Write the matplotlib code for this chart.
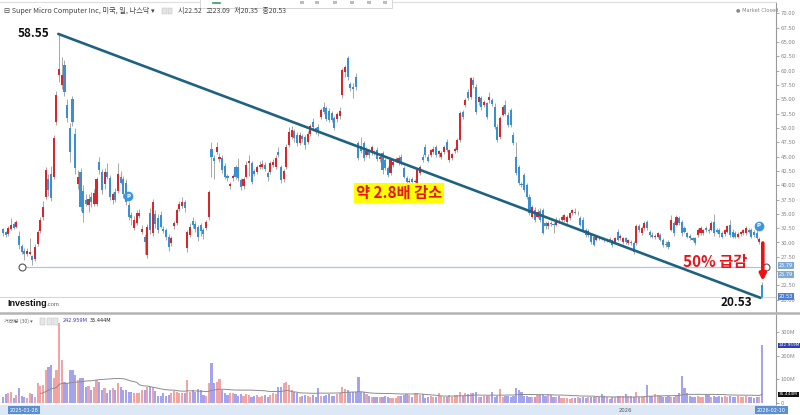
import numpy as np
import pandas as pd
import matplotlib
matplotlib.use('Agg')
import matplotlib.pyplot as plt
from matplotlib.patches import Rectangle
from matplotlib.lines import Line2D

plt.rcParams['font.family'] = ['Noto Sans CJK KR', 'DejaVu Sans']

# 일봉 데이터
opens = [32.3, 31.8, 31.4, 32.4, 33.2, 32.7, 31.2, 29.4, 28.6, 28.0,
         28.0, 27.6, 27.2, 29.8, 32.0, 34.4, 38.0, 41.0, 42.0, 41.5,
         51.0, 59.2, 57.5, 61.0, 54.0, 50.0, 55.0, 49.0, 40.2, 42.3,
         39.0, 37.5, 36.6, 38.0, 36.8, 36.8, 44.0, 42.3, 40.2, 42.3,
         41.2, 37.4, 38.8, 39.0, 41.4, 41.0, 40.4, 36.5, 34.8, 32.6,
         33.4, 34.6, 31.9, 31.0, 27.8, 35.2, 31.7, 35.0, 34.2, 34.8,
         32.4, 32.2, 31.0, 29.9, 32.8, 33.4, 35.8, 36.3, 37.1, 29.0,
         31.3, 33.8, 33.2, 32.7, 33.0, 32.2, 32.6, 34.4, 46.4, 44.8,
         45.8, 44.6, 44.8, 43.4, 41.6, 39.8, 41.2, 43.2, 43.2, 40.9,
         39.8, 41.5, 43.8, 43.8, 42.4, 42.3, 43.2, 43.2, 43.6, 42.1,
         42.3, 43.6, 43.2, 45.8, 43.2, 41.0, 43.2, 47.0, 48.4, 49.4,
         48.8, 47.4, 48.6, 48.4, 47.6, 49.0, 51.0, 49.9, 50.2, 51.9,
         53.6, 53.5, 53.0, 52.6, 51.7, 51.5, 52.0, 55.7, 59.8, 62.2,
         57.6, 57.2, 58.9, 47.4, 46.8, 47.4, 45.3, 46.0, 45.6, 45.8,
         46.2, 44.6, 45.6, 44.4, 43.0, 42.1, 43.5, 44.3, 43.9, 45.0,
         43.0, 41.2, 40.6, 41.0, 40.5, 40.4, 42.1, 45.0, 46.7, 45.0,
         45.3, 45.8, 46.7, 45.4, 45.0, 45.8, 47.6, 44.4, 44.8, 46.0,
         46.1, 47.9, 52.8, 54.0, 56.3, 55.4, 58.4, 57.1, 54.5, 55.2,
         54.0, 54.3, 54.8, 54.8, 53.7, 50.2, 48.4, 52.3, 54.0, 52.3,
         53.1, 48.8, 45.0, 43.2, 40.2, 41.8, 40.0, 38.0, 34.5, 35.7,
         34.5, 35.5, 35.7, 33.4, 32.8, 33.4, 33.3, 33.1, 33.8, 33.9,
         33.9, 33.6, 34.3, 35.1, 35.4, 35.1, 34.3, 34.0, 32.2, 31.3,
         31.3, 31.0, 30.4, 30.9, 30.7, 30.6, 30.4, 30.6, 30.4, 30.1,
         31.9, 30.8, 30.1, 30.7, 29.9, 30.1, 29.9, 29.9, 32.8, 31.6,
         32.5, 33.6, 31.9, 31.3, 31.0, 31.0, 31.3, 30.4, 29.8, 30.1,
         32.2, 33.4, 33.1, 34.3, 33.6, 32.5, 31.6, 31.2, 30.7, 30.7,
         31.3, 31.6, 31.6, 32.5, 32.2, 32.2, 33.6, 32.2, 32.2, 31.6,
         31.4, 31.9, 33.1, 31.9, 31.6, 31.0, 31.5, 31.6, 31.6, 32.2,
         32.2, 31.9, 31.6, 30.0, 22.52]
highs = [32.6, 32.0, 32.8, 34.3, 33.6, 34.0, 32.0, 29.8, 29.0, 29.0,
         30.8, 27.8, 29.8, 32.2, 34.5, 37.2, 43.2, 42.0, 43.4, 48.8,
         56.5, 66.4, 62.4, 61.8, 55.0, 50.8, 55.6, 50.0, 42.6, 43.0,
         40.0, 38.5, 38.4, 38.8, 39.4, 41.4, 45.0, 42.8, 43.0, 43.8,
         41.8, 38.8, 39.5, 43.8, 42.4, 41.6, 41.0, 37.0, 35.4, 34.6,
         35.6, 35.8, 33.0, 31.5, 33.2, 36.0, 37.6, 35.6, 35.0, 35.5,
         32.8, 32.6, 31.4, 31.2, 33.8, 36.1, 37.3, 38.0, 37.4, 32.2,
         33.4, 34.5, 33.8, 33.0, 33.4, 32.6, 34.0, 39.2, 47.6, 45.2,
         47.6, 45.6, 45.2, 43.8, 42.0, 40.6, 42.0, 43.6, 44.8, 41.3,
         41.5, 44.2, 45.2, 44.2, 42.8, 43.6, 44.2, 44.4, 44.0, 42.5,
         44.2, 44.5, 45.3, 46.7, 43.6, 42.8, 47.2, 50.2, 50.4, 49.8,
         49.2, 49.2, 49.0, 48.8, 49.4, 50.6, 51.7, 50.2, 50.6, 53.5,
         54.5, 53.8, 53.4, 53.0, 52.0, 52.8, 53.6, 60.5, 61.0, 62.5,
         58.0, 57.8, 59.6, 47.8, 48.4, 47.8, 46.6, 46.4, 47.0, 46.2,
         46.6, 45.4, 46.0, 44.8, 43.4, 44.8, 44.4, 44.9, 45.2, 45.4,
         43.4, 41.6, 41.2, 41.4, 41.0, 43.0, 43.6, 45.4, 47.2, 45.4,
         46.4, 46.8, 47.0, 46.2, 46.0, 47.0, 48.0, 46.4, 45.6, 46.6,
         48.2, 53.0, 53.2, 55.2, 56.8, 58.9, 58.8, 57.6, 55.6, 55.6,
         54.9, 54.6, 56.2, 55.2, 54.4, 50.6, 52.0, 54.0, 54.8, 52.8,
         53.5, 49.2, 47.5, 43.6, 40.6, 42.2, 40.4, 38.4, 36.6, 36.2,
         35.8, 36.0, 36.0, 33.8, 33.8, 33.8, 33.6, 34.4, 34.2, 34.8,
         35.0, 34.8, 35.4, 35.9, 36.0, 35.5, 34.6, 34.4, 32.6, 32.3,
         31.6, 31.3, 31.3, 31.2, 31.0, 30.9, 30.8, 31.0, 30.6, 30.9,
         32.3, 31.5, 30.9, 31.0, 30.6, 30.4, 30.2, 33.2, 33.2, 32.8,
         33.8, 34.0, 32.2, 31.8, 31.5, 31.9, 31.6, 30.7, 30.3, 30.4,
         34.8, 33.8, 34.8, 34.6, 34.0, 32.8, 31.9, 31.5, 31.0, 31.0,
         32.5, 32.8, 32.4, 32.8, 32.6, 33.8, 35.0, 32.6, 32.5, 32.0,
         32.4, 33.0, 34.0, 32.3, 32.0, 31.8, 32.0, 32.4, 32.8, 32.6,
         32.5, 32.2, 33.3, 31.0, 23.09]
lows = [31.2, 31.0, 31.2, 32.2, 32.3, 32.5, 28.9, 28.0, 27.0, 27.6,
        27.8, 26.1, 26.8, 29.4, 31.6, 34.0, 37.6, 38.2, 37.2, 41.0,
        50.5, 58.0, 56.8, 55.5, 51.0, 44.1, 50.4, 42.0, 39.4, 35.5,
        33.6, 36.4, 35.4, 36.2, 36.4, 36.4, 42.0, 38.5, 39.3, 41.0,
        37.4, 36.8, 37.0, 38.6, 40.2, 37.8, 36.5, 34.0, 33.0, 32.2,
        33.0, 34.2, 31.4, 28.0, 27.3, 31.5, 31.2, 32.5, 31.7, 32.5,
        31.6, 30.5, 28.6, 29.4, 32.4, 33.0, 35.5, 36.0, 35.4, 28.4,
        31.0, 32.6, 31.8, 30.2, 31.2, 30.6, 32.2, 34.0, 41.5, 41.0,
        45.4, 44.0, 42.2, 41.0, 40.8, 39.4, 40.8, 41.0, 40.8, 39.2,
        39.4, 41.2, 41.6, 40.2, 41.6, 42.0, 42.8, 42.8, 42.4, 40.8,
        42.0, 43.2, 42.8, 45.0, 40.4, 40.6, 42.8, 46.6, 48.0, 47.6,
        46.8, 47.0, 47.6, 46.4, 47.2, 48.6, 49.8, 49.0, 48.6, 51.5,
        52.4, 51.2, 51.0, 51.0, 49.6, 51.0, 51.6, 55.3, 58.8, 58.4,
        56.4, 55.2, 56.6, 44.4, 45.6, 44.2, 45.0, 44.8, 45.2, 45.2,
        44.2, 44.0, 42.0, 42.6, 41.4, 41.8, 43.2, 44.0, 43.6, 43.6,
        41.2, 40.2, 40.2, 40.3, 40.2, 40.2, 41.8, 44.0, 45.0, 44.0,
        45.0, 45.4, 45.0, 45.0, 44.6, 45.4, 45.8, 44.0, 44.4, 45.6,
        45.8, 47.6, 51.6, 53.6, 54.8, 55.0, 57.0, 52.4, 54.0, 53.2,
        53.6, 51.5, 54.4, 53.8, 49.8, 47.5, 48.0, 52.0, 52.2, 50.1,
        50.2, 47.0, 41.8, 40.0, 39.6, 38.8, 37.6, 34.8, 34.2, 33.6,
        34.2, 33.6, 31.4, 32.4, 32.4, 32.8, 31.7, 32.8, 33.4, 33.6,
        33.6, 33.2, 34.0, 34.8, 35.0, 34.8, 32.8, 31.8, 31.0, 31.0,
        29.8, 29.4, 30.2, 30.5, 30.4, 30.1, 30.0, 30.3, 29.2, 29.9,
        30.2, 30.5, 29.8, 29.8, 29.6, 29.6, 28.0, 29.6, 31.8, 31.3,
        32.2, 32.2, 31.0, 30.7, 30.6, 30.8, 30.2, 29.2, 29.3, 28.8,
        32.0, 31.2, 32.8, 33.0, 31.2, 31.6, 30.8, 30.4, 30.2, 29.6,
        31.0, 31.3, 31.3, 31.9, 31.6, 32.0, 31.2, 31.6, 31.0, 30.7,
        31.1, 31.6, 31.0, 30.7, 30.8, 30.8, 31.2, 31.3, 31.3, 31.6,
        30.8, 31.0, 30.6, 29.7, 20.35]
closes = [31.6, 31.3, 32.5, 33.1, 32.6, 33.6, 29.5, 28.4, 28.0, 28.5,
          28.4, 27.0, 29.2, 31.8, 34.0, 36.2, 42.6, 39.2, 37.8, 48.2,
          55.7, 60.3, 59.2, 56.3, 51.7, 45.8, 51.0, 43.0, 41.4, 36.2,
          35.2, 36.8, 37.6, 37.0, 38.6, 41.0, 42.6, 39.1, 42.3, 41.5,
          38.0, 38.5, 37.5, 42.0, 40.4, 38.5, 37.1, 34.4, 34.2, 34.0,
          35.2, 35.1, 32.4, 30.0, 32.7, 32.2, 37.0, 33.2, 32.2, 32.7,
          32.0, 31.0, 29.2, 30.8, 33.4, 35.7, 36.8, 37.1, 36.0, 31.8,
          32.7, 33.0, 32.3, 31.0, 32.0, 31.4, 33.6, 38.8, 45.0, 44.2,
          46.6, 45.0, 42.6, 41.4, 41.2, 40.2, 41.6, 41.5, 41.2, 39.6,
          41.0, 43.5, 44.2, 40.6, 42.0, 43.2, 43.6, 43.7, 42.9, 41.4,
          43.8, 44.0, 44.8, 45.3, 40.9, 42.4, 46.7, 49.3, 49.6, 48.2,
          47.4, 48.8, 48.0, 47.0, 49.0, 50.3, 50.2, 49.5, 49.2, 53.1,
          52.8, 51.6, 51.4, 51.4, 50.0, 52.4, 53.0, 60.1, 60.7, 58.9,
          57.0, 56.8, 57.1, 44.8, 46.0, 44.8, 46.0, 45.2, 46.6, 45.6,
          44.6, 45.0, 42.6, 43.0, 41.8, 44.4, 44.0, 44.6, 44.8, 44.0,
          41.5, 40.5, 40.8, 40.6, 40.8, 42.6, 43.2, 44.4, 45.3, 44.2,
          46.1, 46.4, 45.3, 46.0, 45.7, 46.7, 46.1, 46.1, 45.4, 46.3,
          47.9, 52.6, 51.9, 54.8, 55.2, 58.7, 57.5, 52.8, 55.4, 53.6,
          54.6, 51.9, 55.4, 54.2, 50.2, 47.9, 51.7, 53.7, 52.5, 50.5,
          50.5, 47.4, 42.1, 40.4, 40.0, 39.1, 38.0, 35.1, 36.2, 33.9,
          35.4, 34.0, 31.7, 32.8, 33.4, 33.2, 33.0, 34.0, 33.7, 34.5,
          34.8, 34.5, 35.1, 35.6, 35.1, 35.2, 33.1, 32.2, 31.3, 32.0,
          30.1, 29.6, 31.0, 30.8, 30.6, 30.4, 30.6, 30.5, 29.5, 30.7,
          30.4, 31.1, 30.7, 30.1, 30.4, 29.9, 28.4, 32.8, 32.2, 32.5,
          33.4, 32.5, 31.3, 31.0, 31.2, 31.6, 30.4, 29.5, 29.6, 29.2,
          34.0, 31.6, 34.5, 33.4, 31.6, 31.9, 31.0, 30.7, 30.4, 29.9,
          32.2, 32.5, 32.2, 32.2, 32.0, 33.4, 31.6, 31.9, 31.4, 31.0,
          32.2, 32.8, 31.3, 31.0, 31.0, 31.5, 31.8, 32.2, 32.5, 31.9,
          31.0, 31.3, 30.8, 30.6, 20.53]
# 거래량 (백만 주)
volumes = [27, 38, 42, 48, 20, 34, 62, 30, 27, 20,
           41, 38, 27, 83, 72, 76, 139, 153, 160, 104,
           139, 337, 181, 90, 83, 139, 139, 118, 97, 104,
           107, 69, 72, 55, 69, 97, 90, 55, 62, 41,
           55, 62, 55, 83, 69, 55, 55, 48, 48, 41,
           44, 44, 55, 55, 69, 66, 66, 50, 30, 30,
           41, 30, 34, 41, 52, 48, 41, 44, 44, 97,
           48, 55, 48, 58, 55, 34, 30, 86, 168, 83,
           90, 100, 55, 41, 34, 44, 41, 38, 30, 36,
           30, 38, 34, 27, 30, 32, 27, 30, 34, 27,
           32, 41, 40, 69, 66, 83, 90, 76, 55, 48,
           41, 27, 30, 34, 30, 27, 34, 27, 62, 30,
           30, 34, 38, 30, 30, 38, 41, 69, 58, 55,
           48, 48, 48, 111, 48, 48, 38, 30, 27, 24,
           27, 24, 27, 30, 24, 21, 20, 20, 30, 30,
           34, 38, 32, 24, 41, 41, 34, 38, 20, 24,
           30, 24, 27, 41, 30, 27, 27, 34, 27, 34,
           34, 48, 30, 41, 38, 41, 41, 48, 27, 24,
           30, 30, 30, 48, 27, 30, 58, 27, 30, 30,
           24, 30, 63, 55, 48, 30, 30, 27, 27, 24,
           34, 34, 34, 30, 38, 34, 27, 24, 30, 20,
           20, 20, 15, 20, 20, 24, 20, 24, 20, 24,
           24, 27, 24, 24, 38, 30, 24, 15, 24, 27,
           30, 30, 30, 38, 30, 30, 27, 48, 27, 27,
           30, 76, 30, 30, 38, 34, 30, 27, 27, 30,
           27, 27, 34, 41, 114, 62, 41, 30, 24, 24,
           30, 27, 27, 38, 34, 27, 30, 27, 30, 27,
           30, 27, 30, 24, 24, 30, 24, 24, 30, 24,
           27, 20, 24, 27, 242.959]

price_ticks = [20.0, 22.5, 25.0, 27.5, 30.0, 32.5, 35.0, 37.5, 40.0, 42.5, 45.0,
               47.5, 50.0, 52.5, 55.0, 57.5, 60.0, 62.5, 65.0, 67.5, 70.0]
vol_ticks = [0, 100, 200, 300]
vol_tick_labels = ['0', '100M', '200M', '300M']
month_idx = [29, 50, 70, 90, 108, 130, 150, 171, 193, 211, 233, 252, 270]
support_level = 25.79
badge_idx = [46, 282]
badge_price = [38.1, 32.9]

o = np.array(opens); h = np.array(highs); l = np.array(lows); c = np.array(closes)
v = np.array(volumes)
n = len(o)
x = np.arange(n)
up = c >= o

# 픽셀 -> 좌표 변환 (레이아웃용)
STEP = (762 - 3) / (n - 1)
def xi(px):
    return (px - 3) / STEP
def yp(py):
    return 70 - (py - 13.3) / 5.73
def yv(py):
    return (403 - py) / 0.2367

W, H = 800, 415
fig = plt.figure(figsize=(8, 4.15), dpi=100)
fig.patch.set_facecolor('white')

ax = fig.add_axes([0, 1 - 313 / H, 776 / W, 311 / H])
vax = fig.add_axes([0, 1 - 405 / H, 776 / W, 92 / H])
band = fig.add_axes([0, 0, 776 / W, 10 / H])

RED = '#d9262b'
BLUE = '#3a8fd3'

# 캔들
ax.vlines(x, l, h, color='#9a9a9a', lw=0.6, zorder=2)
body = np.maximum(np.abs(c - o), 0.12)
ax.bar(x, body, bottom=np.minimum(o, c), width=0.78,
       color=np.where(up, RED, BLUE), lw=0, zorder=3)

ax.set_xlim(xi(0), xi(776))
ax.set_ylim(yp(313), yp(2))

# 지지선 / 현재가 선
ax.plot([xi(26), xi(762)], [support_level, support_level], color='#a9c9d8', lw=0.9, zorder=1)
ax.plot(xi(22), support_level, 'o', ms=5, mfc='white', mec='#555555', mew=0.8, zorder=4)
ax.plot(xi(766), support_level, 'o', ms=5, mfc='white', mec='#555555', mew=0.8, zorder=4, clip_on=False)
ax.axhline(c[-1], color='#cbd9ef', lw=0.8, zorder=1)

# 추세선
pk = int(np.argmax(h))
ax.plot([pk - 0.3, n - 1.6], [h[pk], l[-1]], color='#1d6283', lw=1.9, zorder=5,
        solid_capstyle='round')

# 축 서식 (25.00 라벨은 태그에 가려짐)
ax.yaxis.tick_right()
ax.set_yticks(price_ticks)
ax.set_yticklabels(['' if t == 25.0 else '%.2f' % t for t in price_ticks])
ax.tick_params(axis='y', labelsize=4.3, colors='#888888', length=2, width=0.5, pad=1.5)
ax.set_xticks([])
for s in ['left', 'bottom']:
    ax.spines[s].set_visible(False)
ax.spines['top'].set_color('#dddddd')
ax.spines['right'].set_color('#999999')
ax.spines['right'].set_linewidth(0.8)

def axis_tag(a, y, text, fc, tc='white', fs=3.6):
    a.text(1.004, y, text, transform=a.get_yaxis_transform(), ha='left', va='center',
           fontsize=fs, color=tc, family='DejaVu Sans', clip_on=False, zorder=10,
           bbox=dict(boxstyle='square,pad=0.2', fc=fc, ec='none'))

axis_tag(ax, support_level + 0.15, '25.79', '#7fa9d6')
axis_tag(ax, support_level - 1.35, '25.79', '#7fa9d6')
axis_tag(ax, c[-1], '%.2f' % c[-1], '#4e7fd6')

# 주석
ax.text(xi(49), yp(34), '58.55', ha='right', va='center', fontsize=8.5,
        fontweight='bold', color='#111111', zorder=6)
ax.text(xi(736), yp(303), '20.53', ha='center', va='center', fontsize=8.5,
        fontweight='bold', color='#111111', zorder=6)
ax.text(xi(399), yp(193), '약 2.8배 감소', ha='center', va='center', fontsize=11,
        fontweight='bold', color='#e8141b', zorder=6,
        bbox=dict(boxstyle='square,pad=0.15', fc='#ffff00', ec='none'))
ax.text(xi(715), yp(262), '50% 급감', ha='center', va='center', fontsize=11,
        fontweight='bold', color='#e8141b', zorder=6)
ax.annotate('', xy=(n - 0.7, yp(281)), xytext=(n - 0.7, yp(243)),
            arrowprops=dict(arrowstyle='-|>', color='#ee1111', lw=2.6, mutation_scale=9,
                            shrinkA=0, shrinkB=0), zorder=7)

for bi, bp in zip(badge_idx, badge_price):
    ax.plot(bi + 0.8, bp, 'o', ms=6, color='#3d95dc', zorder=8)
    ax.text(bi + 0.8, bp, 'P', ha='center', va='center', fontsize=4, color='white',
            fontweight='bold', family='DejaVu Sans', zorder=9)

# 로고
ax.text(xi(7), yp(304), 'Investing', ha='left', va='center', fontsize=6.5,
        fontweight='bold', color='#111111', family='Liberation Sans', zorder=6)
ax.text(xi(46.5), yp(305), '.com', ha='left', va='center', fontsize=4.3,
        color='#666666', family='Liberation Sans', zorder=6)

# 거래량
vax.bar(x, v, width=0.8, color=np.where(up, '#f2a4a4', '#a4a4ee'), lw=0, zorder=2)
ma = pd.Series(v).rolling(30, min_periods=15).mean()
vax.plot(x, ma, color='#8c8c8c', lw=0.7, zorder=3)
vax.set_xlim(xi(0), xi(776))
vax.set_ylim(yv(405), yv(313))
vax.yaxis.tick_right()
vax.set_yticks(vol_ticks)
vax.set_yticklabels(vol_tick_labels)
vax.tick_params(axis='y', labelsize=4.3, colors='#888888', length=2, width=0.5, pad=1.5)
vax.set_xticks(month_idx)
vax.set_xticklabels([])
vax.tick_params(axis='x', length=2.5, width=0.5, colors='#999999', direction='out')
for s in ['left', 'top']:
    vax.spines[s].set_visible(False)
vax.spines['bottom'].set_color('#cccccc')
vax.spines['right'].set_color('#999999')
vax.spines['right'].set_linewidth(0.8)
axis_tag(vax, v[-1], '%.3fM' % v[-1], '#2f3cb4', fs=3.1)
axis_tag(vax, ma.iloc[-1], '35.444M', '#111111', fs=3.1)

vax.text(4 / 776, 0.915, '거래량 (30) ▾', transform=vax.transAxes, fontsize=3.8,
         color='#666666', va='center', ha='left')
for k in range(3):
    vax.add_patch(Rectangle(((40 + k * 6.5) / 776, 0.875), 5 / 776, 0.075,
                            transform=vax.transAxes, fc='#e6e6e6', ec='#bbbbbb', lw=0.3))
vax.text(63 / 776, 0.915, '242.959M', transform=vax.transAxes, fontsize=3.6,
         color='#3a3ab8', va='center', ha='left', family='DejaVu Sans')
vax.text(90 / 776, 0.915, '35.444M', transform=vax.transAxes, fontsize=3.6,
         color='#222222', va='center', ha='left', family='DejaVu Sans')

# 하단 날짜 띠
band.set_facecolor('#dce8f6')
band.set_xlim(xi(0), xi(776))
band.set_ylim(0, 1)
band.set_xticks([]); band.set_yticks([])
for s in band.spines.values():
    s.set_visible(False)
band.text(xi(24), 0.5, '2025-01-28', ha='center', va='center', fontsize=3.6,
          color='white', family='DejaVu Sans',
          bbox=dict(boxstyle='square,pad=0.35', fc='#5b8fd0', ec='none'))
band.text(xi(625), 0.5, '2026', ha='center', va='center', fontsize=3.8,
          color='#555555', family='DejaVu Sans')
fig.text(757 / W, 5 / H, '2026-02-10', ha='left', va='center', fontsize=3.6,
         color='white', family='DejaVu Sans',
         bbox=dict(boxstyle='square,pad=0.35', fc='#5b8fd0', ec='none'))

# 패널 구분선
fig.add_artist(Line2D([0, 1], [1 - 313 / H, 1 - 313 / H], color='#b4b4b4', lw=1.8))

# 상단 제목줄
fig.text(4 / W, 1 - 11 / H, '⊟ Super Micro Computer Inc, 미국, 일, 나스닥 ▾', fontsize=5.2,
         color='#444444', va='center', ha='left')
for k in range(2):
    fig.add_artist(Rectangle(((162 + k * 5.5) / W, 1 - 14 / H), 4.5 / W, 6 / H,
                             transform=fig.transFigure, fc='#e3e3e3', ec='#bbbbbb', lw=0.3))
fig.text(178 / W, 1 - 11 / H, '시22.52   고23.09   저20.35   종20.53', fontsize=5.0,
         color='#444444', va='center', ha='left')
fig.text(736 / W, 1 - 10 / H, '● Market Closed', fontsize=3.7, color='#888888',
         va='center', ha='left', family='DejaVu Sans')

# 상단 도구상자
fig.add_artist(Rectangle((200 / W, 1 - 8 / H), 192 / W, 10 / H, transform=fig.transFigure,
                         fc='white', ec='#d0d0d0', lw=0.6))
fig.add_artist(Line2D([213 / W, 220 / W], [1 - 3 / H, 1 - 3 / H], color='#2e9e5b', lw=1.2))
for px in [300, 315, 333, 350, 367, 383]:
    fig.add_artist(Rectangle((px / W, 1 - 4 / H), 3.5 / W, 3 / H, transform=fig.transFigure,
                             fc='#bdbdbd', ec='none'))

fig.savefig('out.png', dpi=100)
